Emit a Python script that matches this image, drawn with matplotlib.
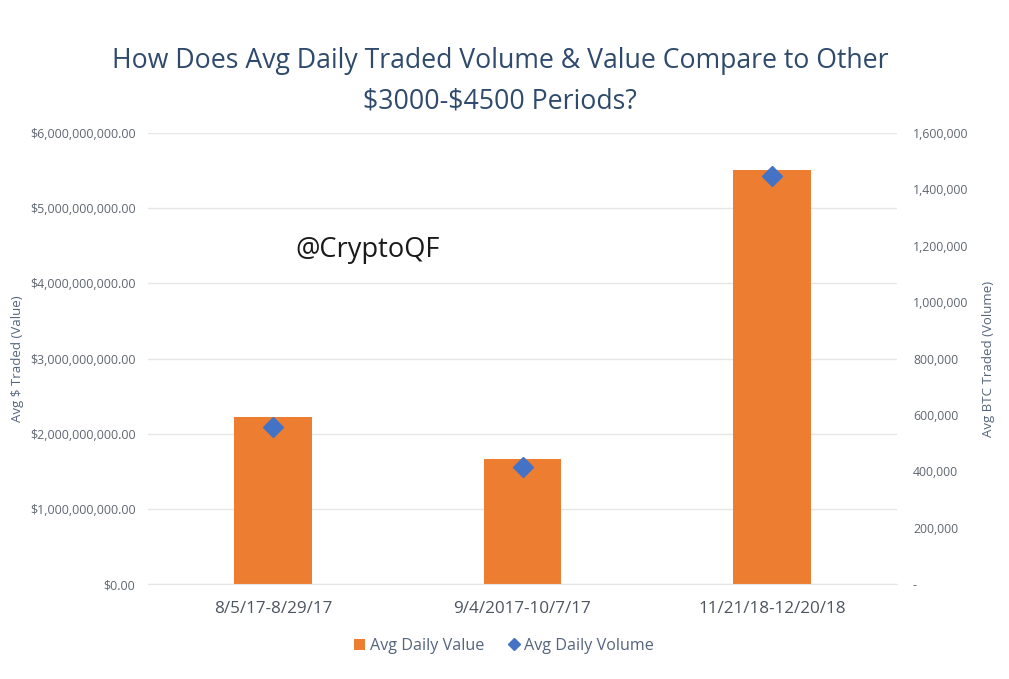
import matplotlib
matplotlib.use("Agg")
import matplotlib.pyplot as plt
from matplotlib.ticker import FuncFormatter

periods = ['8/5/17-8/29/17', '9/4/2017-10/7/17', '11/21/18-12/20/18']
avg_value = [2.22e9, 1.66e9, 5.51e9]
avg_volume = [557000, 414000, 1447000]

plt.rcParams['font.family'] = ['Open Sans', 'DejaVu Sans']
title_col = '#2f4a6d'
label_col = '#55657d'
tick_col = '#5f6670'
orange = '#ed7d31'
blue = '#4472c4'
grid = '#e6e6e6'

fig = plt.figure(figsize=(10.09, 6.79), dpi=100)
ax = fig.add_axes([148 / 1009, 1 - 584 / 679, (897 - 148) / 1009, (584 - 133) / 679])

x = range(len(periods))
bars = ax.bar(x, avg_value, width=0.31, color=orange, label='Avg Daily Value', zorder=2)
ax.set_xlim(-0.5, 2.5)
ax.set_ylim(0, 6e9)
ax.set_xticks(list(x))
ax.set_xticklabels(periods, fontsize=12.3, color='#4d5560')
ax.yaxis.set_major_formatter(FuncFormatter(lambda v, p: '${:,.2f}'.format(v)))
ax.tick_params(axis='y', labelsize=8.9, labelcolor=tick_col, length=0, pad=9)
ax.tick_params(axis='x', length=0, pad=12.5)
ax.grid(axis='y', color=grid, linewidth=1.0, zorder=0)
ax.set_axisbelow(True)
for s in ['top', 'left', 'right']:
    ax.spines[s].set_visible(False)
ax.spines['bottom'].set_color(grid)
ax.set_ylabel('Avg $ Traded (Value)', fontsize=9.5, color=label_col, labelpad=4)

ax2 = ax.twinx()
line = ax2.plot(x, avg_volume, linestyle='none', marker='D', markersize=10, color=blue,
                label='Avg Daily Volume', zorder=3)
ax2.set_ylim(0, 1.6e6)
ax2.yaxis.set_major_formatter(FuncFormatter(lambda v, p: '{:,.0f}'.format(v) if v else '-'))
ax2.tick_params(axis='y', labelsize=8.8, labelcolor=tick_col, length=0, pad=11.5)
for s in ax2.spines.values():
    s.set_visible(False)
ax2.set_ylabel('Avg BTC Traded (Volume)', fontsize=9.5, color=label_col, labelpad=10)

title = 'How Does Avg Daily Traded Volume & Value Compare to Other\n$3000-$4500 Periods?'
fig.text(500 / 1009, 1 - 81.5 / 679, title.replace('$', r'\$'),
         ha='center', va='center', fontsize=19.2, color=title_col, linespacing=1.6)
fig.text(295 / 1009, 1 - 250 / 679, '@CryptoQF', fontsize=19.6, color='#1a1a1a', va='center')

fig.legend([bars, line[0]], ['Avg Daily Value', 'Avg Daily Volume'], loc='center',
           bbox_to_anchor=(504 / 1009, 1 - 646 / 679), ncol=2, frameon=False, fontsize=11.6,
           labelcolor=label_col, handletextpad=0.3, columnspacing=1.5, handlelength=0.7,
           handleheight=0.7, markerscale=0.65)

fig.savefig('out.png', dpi=100)
